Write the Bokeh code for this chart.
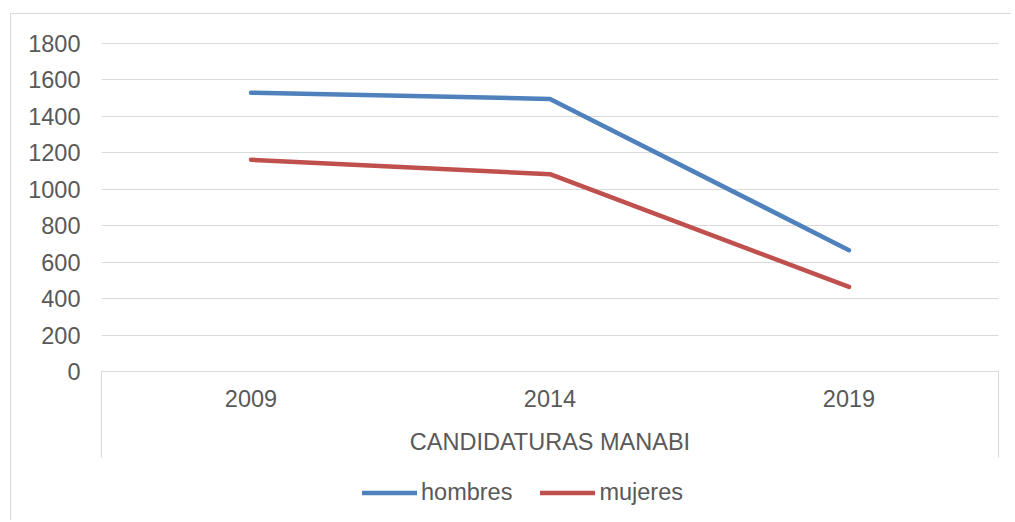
from bokeh.plotting import figure
from bokeh.layouts import column
from bokeh.models import (Range1d, FixedTicker, Legend, LegendItem, LinearAxis)
from bokeh.embed import file_html
from bokeh.resources import INLINE

categories = ["2009", "2014", "2019"]
hombres = [1530, 1496, 666]
mujeres = [1162, 1083, 464]
y_ticks = [0, 200, 400, 600, 800, 1000, 1200, 1400, 1600, 1800]
x_title = "CANDIDATURAS MANABI"
series_names = ["hombres", "mujeres"]
series_colors = ["#4F81BD", "#C0504D"]

FONT = "Liberation Sans"
FS = "23.5px"
TXT = "#595959"
GRID = "#d9d9d9"

# each category occupies one unit of the x range; points sit at its centre
xpos = [i + 0.5 for i in range(len(categories))]

p = figure(
    width=1000, height=462,
    x_range=Range1d(0, len(categories)),
    y_range=Range1d(0, 1800 * 330 / 328),
    output_backend="svg", toolbar_location=None,
    min_border_left=90, min_border_right=13,
    min_border_top=27, min_border_bottom=105,
)
p.outline_line_color = None
p.background_fill_color = "white"
p.border_fill_color = "white"

xax = p.xaxis[0]
xax.ticker = FixedTicker(ticks=xpos)
xax.major_label_overrides = {c: lab for c, lab in zip(xpos, categories)}
xax.axis_line_color = GRID
xax.axis_line_width = 1
xax.major_tick_line_color = None
xax.major_tick_out = 0
xax.major_tick_in = 0
xax.minor_tick_line_color = None
xax.major_label_standoff = 18
xax.major_label_text_font = FONT
xax.major_label_text_font_size = FS
xax.major_label_text_color = TXT
xax.axis_label = x_title
xax.axis_label_text_font = FONT
xax.axis_label_text_font_size = FS
xax.axis_label_text_font_style = "normal"
xax.axis_label_text_color = TXT
xax.axis_label_standoff = 19

# second axis: only the category-block dividers at both ends
div_ax = LinearAxis(ticker=FixedTicker(ticks=[0, len(categories)]))
div_ax.axis_line_color = None
div_ax.major_tick_line_color = GRID
div_ax.major_tick_line_width = 1
div_ax.major_tick_in = 87
div_ax.major_tick_out = 0
div_ax.minor_tick_line_color = None
div_ax.major_label_text_font_size = "0px"
div_ax.major_label_standoff = 0
div_ax.major_label_overrides = {0: "", len(categories): ""}
p.add_layout(div_ax, "below")

yax = p.yaxis[0]
yax.ticker = FixedTicker(ticks=y_ticks)
yax.axis_line_color = None
yax.major_tick_line_color = None
yax.minor_tick_line_color = None
yax.major_tick_out = 0
yax.major_tick_in = 0
yax.major_label_standoff = 21
yax.major_label_text_font = FONT
yax.major_label_text_font_size = FS
yax.major_label_text_color = TXT

p.xgrid.visible = False
p.ygrid.grid_line_color = GRID
p.ygrid.grid_line_width = 1
p.ygrid.ticker = FixedTicker(ticks=y_ticks)

series = [hombres, mujeres]
renderers = [p.line(xpos, s, line_color=c, line_width=4.5,
                    line_cap="round", line_join="round")
             for s, c in zip(series, series_colors)]

# legend strip below the chart; its proxy lines lie outside its own (empty) view
lg = figure(width=1000, height=44, output_backend="svg", toolbar_location=None,
            x_range=Range1d(0, 1), y_range=Range1d(0, 1),
            x_axis_location=None, y_axis_location=None,
            min_border_left=0, min_border_right=0, min_border_top=0, min_border_bottom=0)
lg.outline_line_color = None
lg.grid.visible = False
lg.border_fill_color = "white"
proxies = [lg.line(xpos, s, line_color=c, line_width=4.5, line_cap="round")
           for s, c in zip(series, series_colors)]
legend = Legend(items=[LegendItem(label=n, renderers=[r]) for n, r in zip(series_names, proxies)],
                orientation="horizontal", location=(261, 14),
                glyph_width=55, glyph_height=23, label_height=23,
                label_standoff=4, spacing=28, padding=0, margin=0,
                border_line_color=None, background_fill_alpha=0,
                label_text_font=FONT, label_text_font_size=FS,
                label_text_color=TXT)
lg.add_layout(legend, "center")

layout = column(p, lg, spacing=0)
layout.styles = {"margin-left": "10px", "margin-top": "13px",
                 "border-left": "1px solid #d9d9d9", "border-top": "1px solid #d9d9d9"}

open("out.html", "w").write(file_html(layout, INLINE))
